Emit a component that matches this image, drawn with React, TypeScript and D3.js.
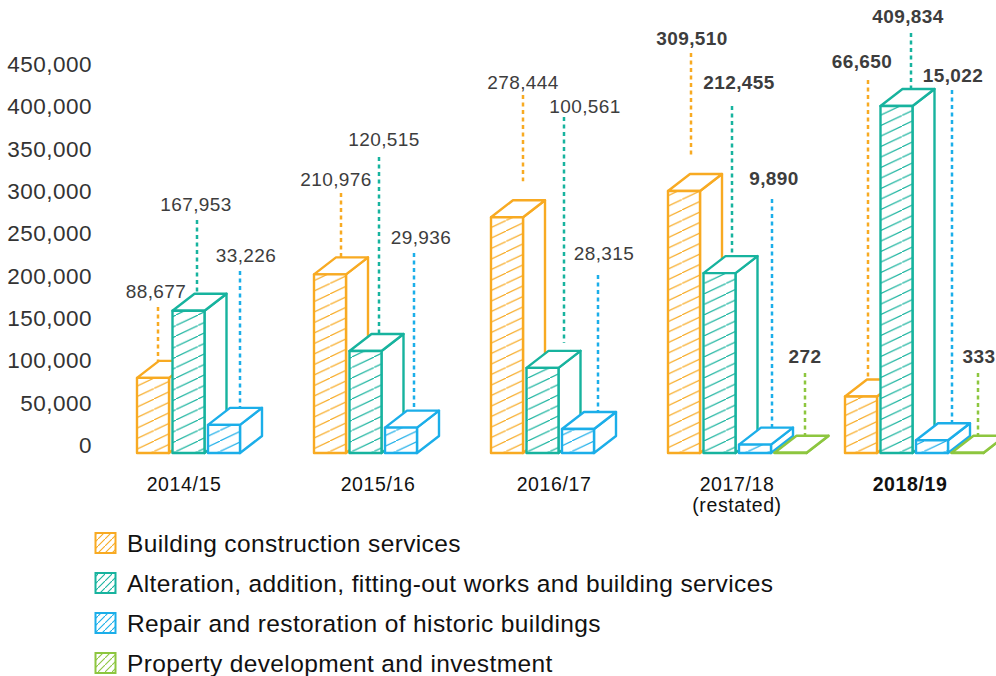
import React from "react";
import * as d3 from "d3";

// ---------- data ----------
const categories = ["2014/15", "2015/16", "2016/17", "2017/18", "2018/19"];
const categorySub = ["", "", "", "(restated)", ""];
const boldCategory = [false, false, false, false, true];
const boldValues = [false, false, false, true, true];

const seriesNames = [
  "Building construction services",
  "Alteration, addition, fitting-out works and building services",
  "Repair and restoration of historic buildings",
  "Property development and investment",
];
const building = [88677, 210976, 278444, 309510, 66650];
const alteration = [167953, 120515, 100561, 212455, 409834];
const repair = [33226, 29936, 28315, 9890, 15022];
const property: (number | null)[] = [null, null, null, 272, 333];
const yTicks = [0, 50000, 100000, 150000, 200000, 250000, 300000, 350000, 400000, 450000];

const seriesValues = [building, alteration, repair, property];
const seriesColors = ["#F8AA22", "#17B39E", "#1BAEE9", "#8DC63F"];

// ---------- annotation layout (callouts hand-placed in the original) ----------
// leader x offset from bar's front-left, label x nudge, label baseline, leader top, leader gap
const calloutLx = [
  [21, 27, 32, 23, 23],
  [24.5, 29.5, 37.5, 28.5, 30.5],
  [32, 29, 36, 33, 36],
  [0, 0, 0, 30.5, 26.5],
];
const calloutTx = [
  [-2, -5, 0, 1, -6],
  [-1, 5, 21, 7, -3],
  [6, 7, 6, 2, 1],
  [0, 0, 0, 0, 1],
];
const calloutTy = [
  [298, 186, 89, 45, 68],
  [211, 146, 113, 89, 23],
  [262, 244, 260, 185, 82],
  [0, 0, 0, 363, 363],
];
const calloutTop = [
  [307, 193, 95, 53, 80],
  [220, 157, 117, 106, 33],
  [271, 253, 275, 199, 90],
  [0, 0, 0, 373, 373],
];
const calloutGap = [
  [0, 0, 19, 19, 0],
  [0, 0, 8, 3, 0],
  [0, 0, 0, 0, 0],
  [0, 0, 0, 0, 0],
];
const tickNudge = [-17, 0, -1, 5, 1];

const W = 996;
const H = 676;
const FONT = "'Liberation Sans', Arial, Helvetica, sans-serif";

export default function App() {
  const x0 = d3.scalePoint<string>().domain(categories).range([137, 845]);
  const y = d3.scaleLinear().domain([0, 450000]).range([453, 72]);
  const slot = 35.5;
  const bw = 32;
  const dx = 22;
  const dy = 17;
  const fmt = d3.format(",");

  const boxes: React.ReactNode[] = [];
  const leaders: React.ReactNode[] = [];
  const labels: React.ReactNode[] = [];

  categories.forEach((cat, ci) => {
    seriesValues.forEach((vals, si) => {
      const v = vals[ci];
      if (v == null) return;
      const color = seriesColors[si];
      const xl = (x0(cat) as number) + si * slot;
      const xr = xl + bw;
      const yb = y(0);
      const yt = y(v);
      const top = `M${xl},${yt}L${xl + dx},${yt - dy}L${xr + dx},${yt - dy}L${xr},${yt}Z`;
      const side = `M${xr},${yt}L${xr + dx},${yt - dy}L${xr + dx},${yb - dy}L${xr},${yb}Z`;
      boxes.push(
        <g key={`b${ci}-${si}`} stroke={color} strokeWidth={2.4} strokeLinejoin="round">
          <path d={side} fill="#fff" />
          <path d={top} fill="#fff" />
          <rect x={xl} y={yt} width={bw} height={Math.max(0, yb - yt)} fill={`url(#hatch${si})`} />
        </g>
      );
      const lx = xl + calloutLx[si][ci];
      leaders.push(
        <line
          key={`l${ci}-${si}`}
          x1={lx}
          x2={lx}
          y1={calloutTop[si][ci]}
          y2={yt - dy - calloutGap[si][ci]}
          stroke={color}
          strokeWidth={2.5}
          strokeDasharray="4 3.5"
        />
      );
      labels.push(
        <text
          key={`t${ci}-${si}`}
          x={lx + calloutTx[si][ci]}
          y={calloutTy[si][ci]}
          textAnchor="middle"
          fontSize={19}
          letterSpacing={0.4}
          fontWeight={boldValues[ci] ? 700 : 400}
          fill="#3d3d3d"
        >
          {fmt(v)}
        </text>
      );
    });
  });

  return (
    <svg
      width={W}
      height={H}
      viewBox={`0 0 ${W} ${H}`}
      style={{ position: "absolute", left: 0, top: 0, background: "#fff" }}
      fontFamily={FONT}
    >
      <defs>
        {seriesColors.map((c, i) => (
          <pattern key={`p${i}`} id={`hatch${i}`} patternUnits="userSpaceOnUse" width={22} height={10.5}>
            <rect width={22} height={10.5} fill="#fff" />
            <line x1={0} y1={10.5} x2={22} y2={0} stroke={c} strokeWidth={1.1} />
          </pattern>
        ))}
        {seriesColors.map((c, i) => (
          <pattern key={`q${i}`} id={`lhatch${i}`} patternUnits="userSpaceOnUse" width={7} height={7}>
            <rect width={7} height={7} fill="#fff" />
            <line x1={0} y1={7} x2={7} y2={0} stroke={c} strokeWidth={1.1} />
          </pattern>
        ))}
      </defs>

      {/* y axis labels */}
      <g fontSize={22.5} letterSpacing={0.5} fill="#333" textAnchor="end">
        {yTicks.map((t) => (
          <text key={t} x={92} y={y(t)}>
            {fmt(t)}
          </text>
        ))}
      </g>

      {leaders}
      {boxes}
      {labels}

      {/* category labels */}
      <g fontSize={19.5} letterSpacing={0.6} fill="#111" textAnchor="middle">
        {categories.map((c, i) => {
          const cx = (x0(c) as number) + 64 + tickNudge[i];
          return (
            <g key={c}>
              <text x={cx} y={491} fontWeight={boldCategory[i] ? 700 : 400}>
                {c}
              </text>
              {categorySub[i] && (
                <text x={cx} y={512}>
                  {categorySub[i]}
                </text>
              )}
            </g>
          );
        })}
      </g>

      {/* legend */}
      <g>
        {seriesNames.map((name, i) => {
          const ly = 543 + i * 40;
          return (
            <g key={name}>
              <rect
                x={95.5}
                y={ly - 10}
                width={20}
                height={20}
                fill={`url(#lhatch${i})`}
                stroke={seriesColors[i]}
                strokeWidth={2}
              />
              <text x={127} y={ly + 8.5} fontSize={24.5} letterSpacing={0.37} fill="#111">
                {name}
              </text>
            </g>
          );
        })}
      </g>
    </svg>
  );
}
